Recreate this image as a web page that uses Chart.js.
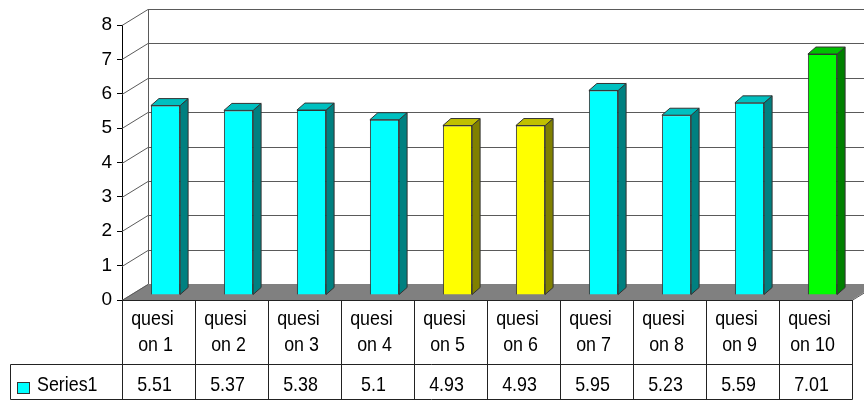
<!DOCTYPE html>
<html>
<head>
<meta charset="utf-8">
<script src="https://cdn.jsdelivr.net/npm/chart.js@4"></script>
<style>
  html, body { margin: 0; padding: 0; background: #fff; }
  canvas { display: block; }
</style>
</head>
<body>
<canvas id="questionChart" width="864" height="402"></canvas>
<script>
var categories = ['quesi on 1', 'quesi on 2', 'quesi on 3', 'quesi on 4', 'quesi on 5',
                  'quesi on 6', 'quesi on 7', 'quesi on 8', 'quesi on 9', 'quesi on 10'];
var seriesName = 'Series1';
var series1 = [5.51, 5.37, 5.38, 5.1, 4.93, 4.93, 5.95, 5.23, 5.59, 7.01];
var yTicks = [0, 1, 2, 3, 4, 5, 6, 7, 8];

// colour scheme per bar: front, side, top
var palette = {
    cyan:   ['#00ffff', '#008080', '#00c0c0'],
    yellow: ['#ffff00', '#808000', '#c0c000'],
    green:  ['#00ff00', '#008000', '#00c000']
};
var barScheme = ['cyan', 'cyan', 'cyan', 'cyan', 'yellow', 'yellow', 'cyan', 'cyan', 'cyan', 'green'];

var FONT = 'Arial, "Liberation Sans", sans-serif';
var WALL_DX = 26, WALL_DY = -16;   // depth of the 3d box
var BAR_DX = 7, BAR_DY = -5;       // bars sit a bit into the box
var BAR_DEPTH_X = 8, BAR_DEPTH_Y = -7;

// narrow, tall text like the original table
function tallText(ctx, text, x, y) {
    ctx.save();
    ctx.translate(x, y);
    ctx.scale(0.85, 1);
    ctx.fillText(text, 0, 0);
    ctx.restore();
}

var box3d = {
    id: 'box3d',
    beforeDatasetsDraw: function (chart) {
        var ctx = chart.ctx;
        var area = chart.chartArea;
        var y = chart.scales.y;
        ctx.save();

        // floor
        ctx.fillStyle = '#808080';
        ctx.beginPath();
        ctx.moveTo(area.left, area.bottom);
        ctx.lineTo(area.right, area.bottom);
        ctx.lineTo(area.right + WALL_DX, area.bottom + WALL_DY);
        ctx.lineTo(area.left + WALL_DX, area.bottom + WALL_DY);
        ctx.closePath();
        ctx.fill();

        // back wall grid and side wall diagonals
        ctx.lineWidth = 1;
        ctx.strokeStyle = '#5a5a5a';
        yTicks.forEach(function (v) {
            var py = Math.round(y.getPixelForValue(v)) + 0.5;
            ctx.beginPath();
            ctx.moveTo(area.left, py);
            ctx.lineTo(area.left + WALL_DX, py + WALL_DY);
            if (v > 0) ctx.lineTo(chart.width, py + WALL_DY);
            ctx.stroke();
        });
        ctx.beginPath();
        ctx.moveTo(area.left + WALL_DX + 0.5, area.top + WALL_DY);
        ctx.lineTo(area.left + WALL_DX + 0.5, area.bottom + WALL_DY);
        ctx.moveTo(area.right, area.bottom + 0.5);
        ctx.lineTo(area.right + WALL_DX, area.bottom + WALL_DY + 0.5);
        ctx.stroke();

        ctx.restore();
        ctx.save();
        ctx.translate(BAR_DX, BAR_DY);
    },
    afterDatasetsDraw: function (chart) {
        var ctx = chart.ctx;
        var meta = chart.getDatasetMeta(0);
        meta.data.forEach(function (bar, i) {
            var p = bar.getProps(['x', 'y', 'base', 'width'], true);
            var l = p.x - p.width / 2, r = p.x + p.width / 2;
            var cols = palette[barScheme[i]];
            ctx.lineWidth = 1;
            ctx.strokeStyle = '#333';
            // side
            ctx.fillStyle = cols[1];
            ctx.beginPath();
            ctx.moveTo(r, p.y);
            ctx.lineTo(r + BAR_DEPTH_X, p.y + BAR_DEPTH_Y);
            ctx.lineTo(r + BAR_DEPTH_X, p.base + BAR_DEPTH_Y);
            ctx.lineTo(r, p.base);
            ctx.closePath();
            ctx.fill();
            ctx.stroke();
            // top
            ctx.fillStyle = cols[2];
            ctx.beginPath();
            ctx.moveTo(l, p.y);
            ctx.lineTo(r, p.y);
            ctx.lineTo(r + BAR_DEPTH_X, p.y + BAR_DEPTH_Y);
            ctx.lineTo(l + BAR_DEPTH_X, p.y + BAR_DEPTH_Y);
            ctx.closePath();
            ctx.fill();
            ctx.stroke();
        });
        ctx.restore();
    }
};

var dataTable = {
    id: 'dataTable',
    afterDraw: function (chart) {
        var ctx = chart.ctx;
        var area = chart.chartArea;
        var x = chart.scales.x;
        var top = area.bottom;
        var mid = 364.5, bottom = 399.5, legendLeft = 10.5;
        var colW = x.getPixelForValue(1) - x.getPixelForValue(0);

        ctx.save();
        ctx.strokeStyle = '#222';
        ctx.lineWidth = 1;
        ctx.beginPath();
        ctx.moveTo(area.left, top + 0.5);
        ctx.lineTo(area.right, top + 0.5);
        ctx.moveTo(legendLeft, mid);
        ctx.lineTo(area.right, mid);
        ctx.moveTo(legendLeft, bottom);
        ctx.lineTo(area.right + 0.5, bottom);
        ctx.moveTo(legendLeft, mid);
        ctx.lineTo(legendLeft, bottom);
        for (var i = 0; i <= categories.length; i++) {
            var bx = Math.round(x.getPixelForValue(i) - colW / 2) + 0.5;
            ctx.moveTo(bx, top);
            ctx.lineTo(bx, bottom);
        }
        ctx.stroke();

        ctx.fillStyle = '#000';
        ctx.font = '21px ' + FONT;
        ctx.textAlign = 'center';
        ctx.textBaseline = 'alphabetic';
        categories.forEach(function (c, i) {
            var cx = x.getPixelForValue(i);
            var parts = c.split(' ');
            tallText(ctx, parts[0], cx - 6, 325);
            tallText(ctx, parts.slice(1).join(' '), cx - 3, 351);
            tallText(ctx, String(series1[i]), cx - 4, 391);
        });

        // legend key
        ctx.fillStyle = palette.cyan[0];
        ctx.fillRect(17.5, 382.5, 12, 11);
        ctx.strokeStyle = '#333';
        ctx.strokeRect(17.5, 382.5, 12, 11);
        ctx.fillStyle = '#000';
        ctx.textAlign = 'left';
        tallText(ctx, seriesName, 37, 391);
        ctx.restore();
    }
};

new Chart(document.getElementById('questionChart'), {
    type: 'bar',
    data: {
        labels: categories,
        datasets: [{
            label: seriesName,
            data: series1,
            backgroundColor: barScheme.map(function (s) { return palette[s][0]; }),
            borderColor: '#333',
            borderWidth: 1,
            categoryPercentage: 1,
            barPercentage: 0.4
        }]
    },
    options: {
        responsive: false,
        animation: false,
        layout: { padding: { left: 0, top: 25, right: 12, bottom: 102 } },
        plugins: { legend: { display: false }, tooltip: { enabled: false } },
        scales: {
            x: { display: false },
            y: {
                min: 0,
                max: 8,
                afterFit: function (scale) { scale.width = 122; },
                ticks: { stepSize: 1, color: '#000', padding: 5, font: { family: FONT, size: 19 } },
                grid: { drawOnChartArea: false, drawTicks: true, tickLength: 5, color: '#000' },
                border: { color: '#000' }
            }
        }
    },
    plugins: [box3d, dataTable]
});
</script>
</body>
</html>
